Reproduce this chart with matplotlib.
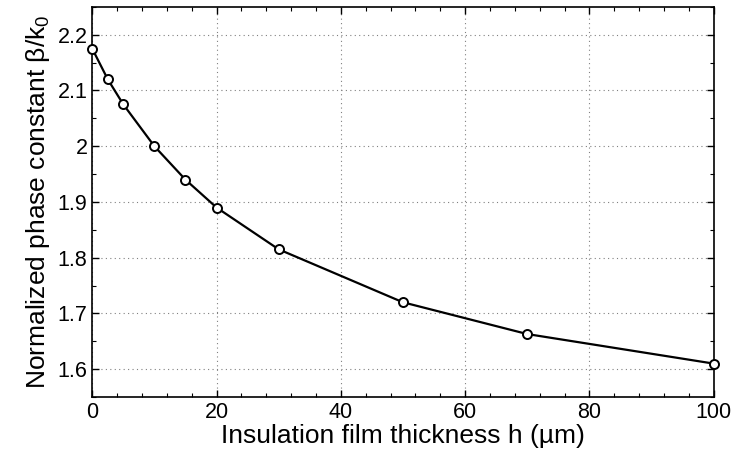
import numpy as np
import matplotlib
matplotlib.use("Agg")
import matplotlib.pyplot as plt
from matplotlib.ticker import MultipleLocator

plt.rcParams['font.family'] = ['Liberation Sans', 'DejaVu Sans']
plt.rcParams['mathtext.fontset'] = 'custom'
plt.rcParams['mathtext.rm'] = 'Liberation Sans'
plt.rcParams['mathtext.it'] = 'Liberation Sans'

# film thickness (um) and normalized phase constant
thickness = [0, 2.5, 5, 10, 15, 20, 30, 50, 70, 100]
beta_k0 = [2.175, 2.12, 2.075, 2.0, 1.94, 1.89, 1.815, 1.72, 1.663, 1.61]

fig = plt.figure(figsize=(7.38, 4.59), dpi=100)
ax = fig.add_axes([0.125, 0.135, 0.842, 0.85])

ax.plot(thickness, beta_k0, '-o', color='black', lw=1.6,
        markerfacecolor='white', markeredgecolor='black', markersize=6.5, mew=1.4,
        clip_on=False, zorder=3)

ax.set_xlim(0, 100)
ax.set_ylim(1.55, 2.25)
ax.xaxis.set_major_locator(MultipleLocator(20))
ax.xaxis.set_minor_locator(MultipleLocator(4))
ax.yaxis.set_minor_locator(MultipleLocator(0.05))
ax.set_yticks([1.6, 1.7, 1.8, 1.9, 2.0, 2.1, 2.2])
ax.set_yticklabels(['1.6', '1.7', '1.8', '1.9', '2', '2.1', '2.2'])

ax.tick_params(which='both', direction='in', top=True, right=True, labelsize=15.5)
ax.tick_params(which='major', length=5, width=1)
ax.tick_params(which='minor', length=3, width=0.8)
for s in ax.spines.values():
    s.set_linewidth(1.2)

ax.grid(True, which='major', linestyle=(0, (1, 3)), color='gray', lw=0.8)

ax.set_xlabel('Insulation film thickness h (µm)', fontsize=19, labelpad=1)
ax.set_ylabel(r'Normalized phase constant β/k$_\mathrm{0}$', fontsize=19, labelpad=4)

fig.savefig('out.png', dpi=100)
